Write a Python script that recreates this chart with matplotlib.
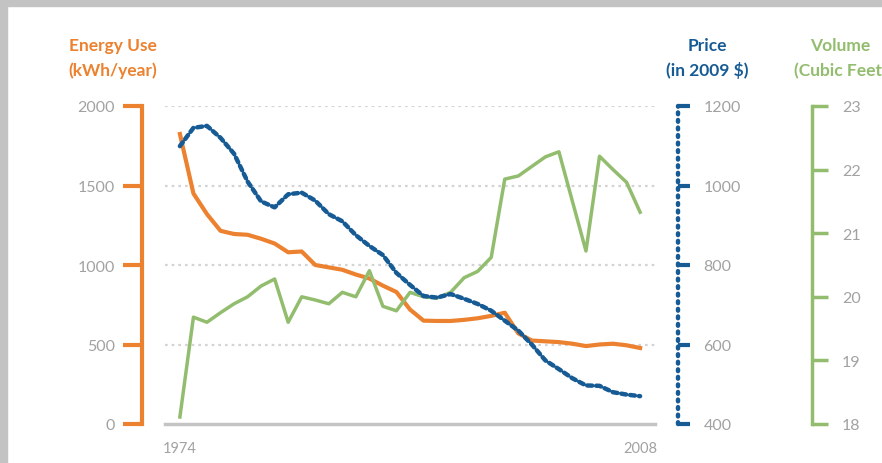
import matplotlib
matplotlib.use("Agg")
import matplotlib.pyplot as plt
from matplotlib.patches import Rectangle

# refrigerator trends, 1974-2008
YEARS = list(range(1974, 2009))
ENERGY = [1824, 1450, 1320, 1215, 1195, 1190, 1165, 1135, 1080, 1085,
          1000, 985, 970, 940, 915, 870, 830, 720, 650, 648,
          648, 655, 665, 680, 700, 570, 525, 520, 515, 505,
          490, 500, 505, 495, 478]
PRICE = [1099, 1145, 1150, 1120, 1080, 1010, 960, 945, 978, 982,
         962, 928, 910, 875, 848, 825, 780, 750, 722, 718,
         727, 715, 702, 685, 660, 635, 600, 560, 538, 515,
         497, 496, 480, 474, 470]
VOLUME = [18.11, 19.68, 19.60, 19.75, 19.89, 20.00, 20.17, 20.28, 19.60, 20.00,
          19.95, 19.89, 20.07, 20.00, 20.41, 19.85, 19.78, 20.07, 20.00, 19.98,
          20.07, 20.30, 20.40, 20.62, 21.85, 21.90, 22.05, 22.20, 22.28, 21.50,
          20.72, 22.21, 22.00, 21.80, 21.33]
ENERGY_TICKS = [0, 500, 1000, 1500, 2000]
PRICE_TICKS = [400, 600, 800, 1000, 1200]
VOLUME_TICKS = [18, 19, 20, 21, 22, 23]

ORANGE = "#ec8230"
BLUE = "#175b95"
GREEN = "#93bd6e"
GRAY = "#a2a2a2"

plt.rcParams["font.family"] = ["Lato", "DejaVu Sans"]

fig = plt.figure(figsize=(8.82, 4.64), dpi=100)
fig.patches.append(Rectangle((0, 0), 7 / 882, 1, transform=fig.transFigure,
                             color="#c3c3c3", zorder=0))
fig.patches.append(Rectangle((0, 1 - 7 / 464), 1, 7 / 464, transform=fig.transFigure,
                             color="#c3c3c3", zorder=0))

ax = fig.add_axes([165 / 882, 39 / 464, 490 / 882, 318 / 464])
ax3 = ax.twinx()
ax2 = ax.twinx()
for a in (ax, ax2, ax3):
    a.patch.set_visible(False)
    for s in a.spines.values():
        s.set_visible(False)

x = list(range(len(YEARS)))

# energy (left)
for g in ENERGY_TICKS[1:]:
    ax.axhline(g, color="#d4d4d4", lw=1.6, ls=(0, (1.2, 1.8)), zorder=0)
ax.plot(x, ENERGY, color=ORANGE, lw=3, solid_joinstyle="round", zorder=3)
ax.set_ylim(0, 2000)
ax.set_xlim(-1.1, 35.1)
ax.set_yticks(ENERGY_TICKS)
ax.spines["left"].set_visible(True)
ax.spines["left"].set_position(("outward", 16.5))
ax.spines["left"].set_color(ORANGE)
ax.spines["left"].set_linewidth(3)
ax.tick_params(axis="y", direction="out", length=13.5, width=3, color=ORANGE,
               labelcolor=GRAY, labelsize=11.5, pad=6)
ax.spines["bottom"].set_visible(True)
ax.spines["bottom"].set_color("#c4c4c4")
ax.spines["bottom"].set_linewidth(2.5)
ax.set_xticks([0, len(YEARS) - 1])
ax.set_xticklabels([str(YEARS[0]), str(YEARS[-1])])
ax.tick_params(axis="x", length=0, labelcolor=GRAY, labelsize=10.5, pad=12)

# volume (far right)
ax3.plot(x, VOLUME, color=GREEN, lw=2.5, solid_joinstyle="round")
ax3.set_ylim(18, 23)
ax3.set_yticks(VOLUME_TICKS)
ax3.spines["right"].set_visible(True)
ax3.spines["right"].set_position(("outward", 113))
ax3.spines["right"].set_color(GREEN)
ax3.spines["right"].set_linewidth(2.5)
ax3.tick_params(axis="y", direction="out", length=11.5, width=2.5, color=GREEN,
                labelcolor=GRAY, labelsize=11.5, pad=10)

# price (right)
ax2.plot(x, PRICE, color=BLUE, lw=3.2, ls=(0, (1.1, 0.9)),
         dash_capstyle="round")
ax2.set_ylim(400, 1200)
ax2.set_yticks(PRICE_TICKS)
ax2.spines["right"].set_visible(True)
ax2.spines["right"].set_position(("outward", 16.5))
ax2.spines["right"].set_color(BLUE)
ax2.spines["right"].set_linewidth(3.2)
ax2.spines["right"].set_linestyle((0, (0.4, 1.3)))
ax2.spines["right"].set_capstyle("round")
ax2.tick_params(axis="y", direction="out", length=8.5, width=3, color=BLUE,
                labelcolor=GRAY, labelsize=11.5, pad=10)

# axis titles
def title(xc, lines, color):
    for txt, yc in zip(lines, (46, 71)):
        fig.text(xc / 882, 1 - yc / 464, txt, color=color, fontsize=12.5,
                 fontweight="bold", ha="center", va="center")

title(113, ["Energy Use", "(kWh/year)"], ORANGE)
title(707, ["Price", "(in 2009 $)"], BLUE)
title(840, ["Volume", "(Cubic Feet)"], GREEN)

fig.savefig("out.png", dpi=100)
